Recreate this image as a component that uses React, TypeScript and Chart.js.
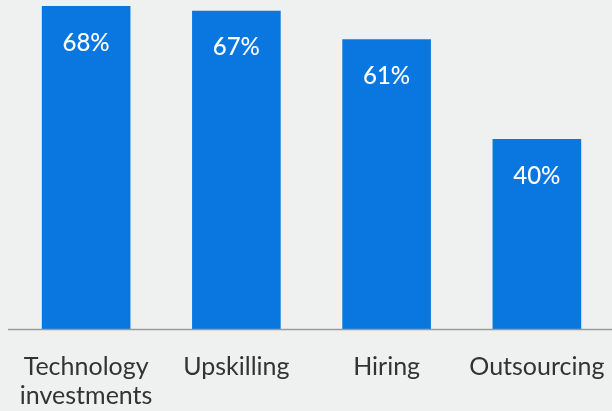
import React, { useEffect, useRef } from "react";
import { Chart, registerables } from "chart.js";

Chart.register(...registerables);

const categories: (string | string[])[] = [["Technology", "investments"], "Upskilling", "Hiring", "Outsourcing"];
const values: number[] = [68, 67, 61, 40];
const valueLabels: string[] = ["68%", "67%", "61%", "40%"];

const BAR = "#0a76e0";
const BG = "#eff0f0";
const FONT = "Lato, 'Noto Sans', sans-serif";

const labelPlugin = {
  id: "barLabels",
  afterDatasetsDraw(chart: any) {
    const ctx = chart.ctx;
    const meta = chart.getDatasetMeta(0);
    ctx.save();
    ctx.fillStyle = "#ffffff";
    ctx.font = `500 24px ${FONT}`;
    ctx.textAlign = "center";
    ctx.textBaseline = "middle";
    meta.data.forEach((bar: any, i: number) => {
      ctx.fillText(valueLabels[i], bar.x, bar.y + 37);
    });
    // category labels
    ctx.fillStyle = "#333333";
    ctx.font = `25px ${FONT}`;
    const y0 = chart.scales.y.getPixelForValue(0);
    meta.data.forEach((bar: any, i: number) => {
      const lines = Array.isArray(categories[i]) ? (categories[i] as string[]) : [categories[i] as string];
      lines.forEach((ln, j) => {
        ctx.fillText(ln, bar.x, y0 + 38 + j * 29);
      });
    });
    ctx.restore();
  },
};

const baselinePlugin = {
  id: "baseline",
  afterDatasetsDraw(chart: any) {
    const ctx = chart.ctx;
    const y = chart.scales.y.getPixelForValue(0);
    ctx.save();
    ctx.strokeStyle = "#9a9a9a";
    ctx.lineWidth = 1.5;
    ctx.beginPath();
    ctx.moveTo(8, y + 0.5);
    ctx.lineTo(chart.width, y + 0.5);
    ctx.stroke();
    ctx.restore();
  },
};

export default function App() {
  const ref = useRef<HTMLCanvasElement | null>(null);
  useEffect(() => {
    document.body.style.margin = "0";
    document.body.style.background = BG;
    const chart = new Chart(ref.current!, {
      type: "bar",
      data: {
        labels: categories,
        datasets: [
          {
            data: values,
            backgroundColor: BAR,
            categoryPercentage: 0.59,
            barPercentage: 1,
          },
        ],
      },
      options: {
        animation: false,
        responsive: false,
        maintainAspectRatio: false,
        layout: { padding: { left: 11, right: 0, top: 6, bottom: 82 } },
        plugins: { legend: { display: false }, tooltip: { enabled: false } },
        scales: {
          x: {
            display: false,
            grid: { display: false },
          },
          y: {
            display: false,
            min: 0,
            max: 68,
          },
        },
      },
      plugins: [labelPlugin, baselinePlugin],
    });
    return () => chart.destroy();
  }, []);
  return (
    <div style={{ position: "absolute", left: 0, top: 0, width: 612, height: 411, background: BG }}>
      <canvas ref={ref} width={612} height={411} />
    </div>
  );
}
